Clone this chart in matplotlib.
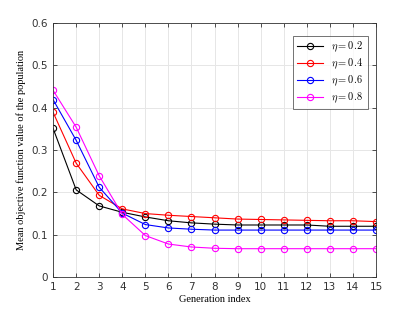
import numpy as np
import matplotlib
matplotlib.use("Agg")
import matplotlib.pyplot as plt

# generation index
gen = list(range(1, 16))

# mean objective value per eta
eta_02 = [0.351, 0.206, 0.168, 0.153, 0.142, 0.133, 0.128, 0.125, 0.123, 0.123, 0.123, 0.123, 0.120, 0.120, 0.120]
eta_04 = [0.389, 0.269, 0.193, 0.161, 0.150, 0.146, 0.143, 0.140, 0.137, 0.136, 0.135, 0.134, 0.133, 0.133, 0.131]
eta_06 = [0.419, 0.323, 0.212, 0.151, 0.124, 0.116, 0.113, 0.111, 0.111, 0.111, 0.111, 0.111, 0.111, 0.111, 0.111]
eta_08 = [0.441, 0.354, 0.239, 0.148, 0.098, 0.078, 0.071, 0.068, 0.067, 0.067, 0.067, 0.067, 0.067, 0.067, 0.067]

labels = [r"$\eta = 0.2$", r"$\eta = 0.4$", r"$\eta = 0.6$", r"$\eta = 0.8$"]
colors = ["black", "red", "blue", "magenta"]

plt.rcParams["mathtext.fontset"] = "cm"

fig = plt.figure(figsize=(4.15, 3.12), dpi=100)
ax = fig.add_axes([0.128, 0.112, 0.778, 0.814])

for y, lab, c in zip([eta_02, eta_04, eta_06, eta_08], labels, colors):
    ax.plot(gen, y, color=c, lw=0.8, marker="o", ms=4.5, mfc="none", mew=0.8, label=lab)

ax.set_xlim(1, 15)
ax.set_ylim(0, 0.6)
ax.set_xticks(gen)
ax.set_yticks(np.arange(0, 0.61, 0.1))
ax.set_yticklabels(["0", "0.1", "0.2", "0.3", "0.4", "0.5", "0.6"])
ax.grid(True, color="#e6e6e6", lw=0.7)
ax.set_axisbelow(True)
ax.tick_params(direction="in", top=True, right=True, labelsize=7.5, colors="#333333", length=3, width=0.6)
for s in ax.spines.values():
    s.set_color("#333333")
    s.set_linewidth(0.6)

ax.set_xlabel("Generation index", family="Liberation Serif", fontsize=7.5, labelpad=2)
ax.set_ylabel("Mean objective function value of the population", family="Liberation Serif", fontsize=7.5, labelpad=4)

leg = ax.legend(loc="upper right", bbox_to_anchor=(0.99, 0.97), fancybox=False, edgecolor="#333333",
                handlelength=2.5, borderpad=0.4, labelspacing=0.25, prop={"family": "Liberation Serif", "size": 7.5})
leg.get_frame().set_linewidth(0.6)

fig.savefig("out.png", dpi=100)
